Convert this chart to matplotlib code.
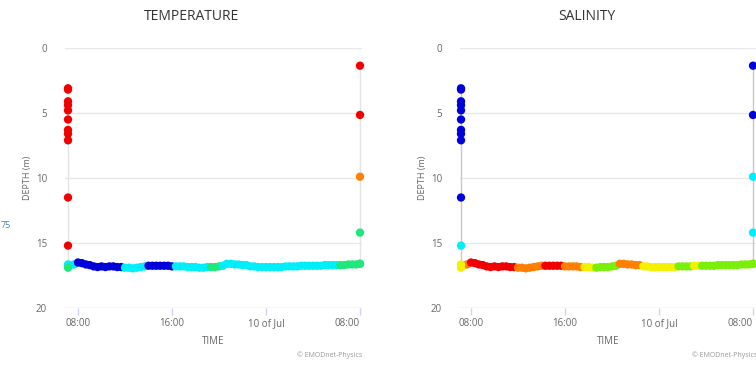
import numpy as np
import pandas as pd
import matplotlib
matplotlib.use("Agg")
import matplotlib.pyplot as plt

plt.rcParams['font.family'] = ['Open Sans', 'DejaVu Sans']

# colour classes used by the plot (0 = coldest / freshest ... 6 = warmest / saltiest)
palette = ['#0000d8', '#00eefa', '#1fe87a', '#7af00a', '#f5f000', '#ff8000', '#f00000']

# vertical profiles, hours since 00:00 of 9 Jul
start_time = 7.15
start_depth = [3.1, 3.2, 4.1, 4.4, 4.8, 5.5, 6.3, 6.6, 7.1, 11.5, 15.2, 16.65, 16.9]
start_temp_cls = [6, 6, 6, 6, 6, 6, 6, 6, 6, 6, 6, 1, 2]
start_sal_cls = [0, 0, 0, 0, 0, 0, 0, 0, 0, 0, 1, 4, 4]

end_time = 32.0
end_depth = [1.36, 5.15, 9.9, 14.2, 16.6]
end_temp_cls = [6, 6, 5, 2, 2]
end_sal_cls = [0, 0, 1, 1, 3]

# bottom sensor, every 20 min from 07:20 to 08:00 next day
bottom_times = pd.date_range('2019-07-09 07:20', '2019-07-10 08:00', freq='20min')
bottom_depth = [16.7, 16.65, 16.5, 16.55, 16.65, 16.7, 16.8, 16.85, 16.8, 16.85,
                16.8, 16.8, 16.85, 16.85, 16.9, 16.9, 16.95, 16.9, 16.85, 16.8,
                16.75, 16.75, 16.75, 16.75, 16.75, 16.75, 16.8, 16.8, 16.8, 16.8,
                16.85, 16.85, 16.85, 16.9, 16.9, 16.85, 16.85, 16.85, 16.8, 16.75,
                16.6, 16.6, 16.65, 16.65, 16.7, 16.7, 16.8, 16.8, 16.85, 16.85,
                16.85, 16.85, 16.85, 16.85, 16.85, 16.8, 16.8, 16.8, 16.8, 16.75,
                16.75, 16.75, 16.75, 16.75, 16.75, 16.7, 16.7, 16.7, 16.7, 16.7,
                16.7, 16.65, 16.65, 16.65, 16.6]
bottom_temp_cls = [1]*2 + [0]*12 + [1]*6 + [0]*7 + [1]*9 + [2]*3 + [1]*30 + [2]*6
bottom_sal_cls = ([5]*2 + [6]*12 + [5]*7 + [6]*5 + [5]*5 + [4]*3 + [3]*6 + [5]*6
                  + [4]*9 + [3]*4 + [4]*2 + [3]*14)

tick_pos = [8, 16, 24, 32]
tick_labels = ['08:00', '16:00', '10 of Jul', '08:00']
titles = ['TEMPERATURE', 'SALINITY']

bt = np.array([(t - pd.Timestamp('2019-07-09')).total_seconds() / 3600 for t in bottom_times])

W, H = 756, 368
fig = plt.figure(figsize=(W / 100, H / 100), dpi=100)

panels = [
    (65, (6.894, 32.17), start_temp_cls, end_temp_cls, bottom_temp_cls, '#e4e4e4'),
    (460, (7.064, 32.34), start_sal_cls, end_sal_cls, bottom_sal_cls, '#c8c8c8'),
]

for k, (x0, xlim, s_cls, e_cls, b_cls, vcol) in enumerate(panels):
    ax = fig.add_axes([x0 / W, 60 / H, 297 / W, 260 / H])
    for sp in ax.spines.values():
        sp.set_visible(False)
    ax.set_xlim(*xlim)
    ax.set_ylim(20, 0)
    for g in [0, 5, 10, 15]:
        ax.axhline(g, color='#e8e8e8', lw=1, zorder=0)
    ax.axhline(20, color='#ccd6eb', lw=1, zorder=0)

    ax.plot([start_time] * 2, [start_depth[0], start_depth[-1]], color=vcol, lw=1, zorder=1)
    ax.plot([end_time] * 2, [end_depth[0], end_depth[-1]], color=vcol, lw=1, zorder=1)

    ax.scatter([start_time] * len(start_depth), start_depth, s=36,
               c=[palette[i] for i in s_cls], zorder=3, linewidths=0, clip_on=False)
    ax.scatter([end_time] * len(end_depth), end_depth, s=36,
               c=[palette[i] for i in e_cls], zorder=3, linewidths=0, clip_on=False)
    ax.scatter(bt, bottom_depth, s=36, c=[palette[i] for i in b_cls],
               zorder=2, linewidths=0, clip_on=False)

    ax.set_yticks([0, 5, 10, 15, 20])
    ax.set_xticks(tick_pos)
    ax.set_xticklabels(tick_labels)
    # last label is pulled inside the plot, as the original chart does
    ax.get_xticklabels()[-1].set_horizontalalignment('right')
    ax.get_xticklabels()[-1].set_x(tick_pos[-1] + 0.15)
    ax.tick_params(axis='y', length=0, pad=13, labelsize=7, labelcolor='#666666')
    ax.tick_params(axis='x', length=5, width=1, color='#ccd6eb', pad=2,
                   labelsize=7, labelcolor='#666666')
    ax.set_ylabel('DEPTH (m)', fontsize=6.5, color='#666666', labelpad=3)
    ax.set_xlabel('TIME', fontsize=7, color='#666666', labelpad=5)

    cx = x0 + 297 / 2
    fig.text((cx - 22) / W, 1 - 17 / H, titles[k], ha='center', va='center',
             fontsize=10, color='#333333')
    fig.text((x0 + 297) / W, 1 - 355 / H, '© EMODnet-Physics', ha='right',
             va='center', fontsize=5, color='#999999')

fig.text(1 / W, 1 - 225 / H, '75', ha='left', va='center', fontsize=6.5, color='#4a7cc0')

fig.savefig('out.png', dpi=100)
